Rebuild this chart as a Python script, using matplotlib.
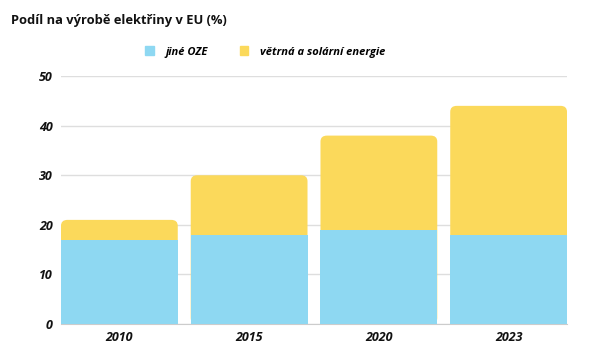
import matplotlib.pyplot as plt
from matplotlib.patches import FancyBboxPatch, Patch

years = ["2010", "2015", "2020", "2023"]
jine_oze = [17, 18, 19, 18]
vetrna_solarni = [4, 12, 19, 26]

blue = "#8ed8f2"
yellow = "#fbd95b"

plt.rcParams['font.family'] = ['Open Sans', 'DejaVu Sans']

fig = plt.figure(figsize=(6.05, 3.59), dpi=100)
ax = fig.add_axes([0.1008, 0.0975, 0.8364, 0.6905])

width = 0.9
x = list(range(len(years)))
for i in x:
    total = jine_oze[i] + vetrna_solarni[i]
    # rounded top: yellow box from 0 to total, blue plain bar drawn over it
    box = FancyBboxPatch((i - width / 2, 0), width, total,
                         boxstyle="round,pad=0,rounding_size=0.05",
                         mutation_aspect=24, facecolor=yellow,
                         edgecolor="none", zorder=2)
    ax.add_patch(box)
ax.bar(x, jine_oze, width=width, color=blue, zorder=3)

ax.set_xlim(-0.45, 3.45)
ax.set_ylim(0, 50)
ax.set_yticks([0, 10, 20, 30, 40, 50])
ax.set_xticks(x)
ax.set_xticklabels(years)
ax.grid(axis="y", color="#dedede", linewidth=1, zorder=0)
ax.set_axisbelow(True)
for s in ["top", "right", "left"]:
    ax.spines[s].set_visible(False)
ax.spines["bottom"].set_color("#cccccc")
ax.tick_params(length=0, labelsize=9)
ax.tick_params(axis="y", pad=6)
ax.tick_params(axis="x", pad=5)
for lab in ax.get_xticklabels() + ax.get_yticklabels():
    lab.set_fontweight("bold")
    lab.set_fontstyle("italic")
    lab.set_color("#111111")

fig.text(0.019, 0.942, "Podíl na výrobě elektřiny v EU (%)", fontsize=9.3,
         fontweight="bold", color="#111111", va="center")

handles = [Patch(color=blue, label="jiné OZE"),
           Patch(color=yellow, label="větrná a solární energie")]
fig.legend(handles=handles, loc="center", bbox_to_anchor=(0.438, 0.855),
           ncol=2, frameon=False, handlelength=0.8, handleheight=0.8,
           columnspacing=2.9, handletextpad=1.0,
           prop={"size": 8, "weight": "bold", "style": "italic"})

fig.savefig("out.png", dpi=100)
